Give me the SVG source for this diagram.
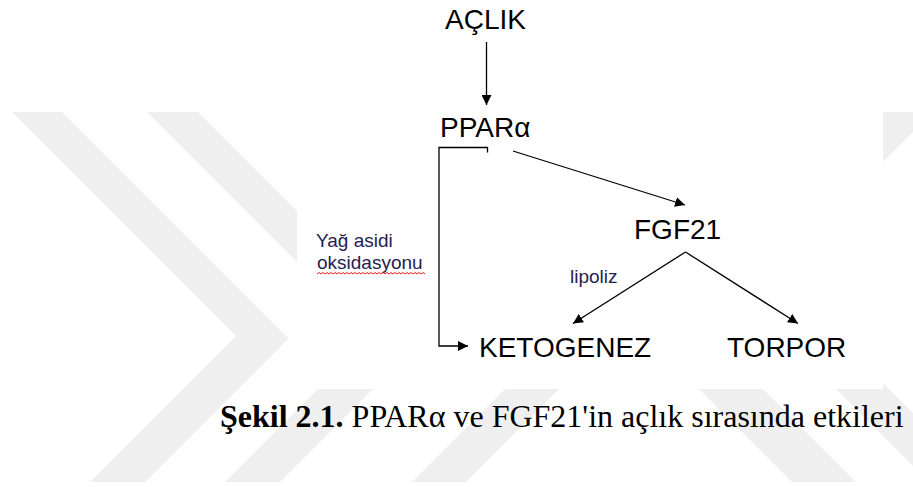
<svg xmlns="http://www.w3.org/2000/svg" width="913" height="487" viewBox="0 0 913 487">
<style>
.wm{fill:#efefef}
.lbl{font-family:"Liberation Sans",Arial,sans-serif;font-size:28px;fill:#000}
.sm{font-family:"Liberation Sans",Arial,sans-serif;font-size:19px;fill:#262050}
.cap{font-family:"Liberation Serif","Times New Roman",serif;font-size:32px;fill:#000}
.edge{stroke:#000;stroke-width:1.3;fill:none}
</style>
<defs>
<marker id="ah" markerUnits="userSpaceOnUse" markerWidth="10" markerHeight="10" viewBox="0 0 10 10" refX="10" refY="5" orient="auto"><path d="M0,0 L10,5 L0,10 z" fill="#000"/></marker>
</defs>
<rect width="913" height="487" fill="#fff"/>
<g id="watermark">
<polygon class="wm" points="12,112 62,112 288.5,338.5 145,482 90,482 236,336"/>
<polygon class="wm" points="147,112 198,112 424,338 280,482 225,482 371,336"/>
<polygon class="wm" points="782,112 836,112 466,482 412,482"/>
<polygon class="wm" points="883,112 933,112 883,162"/>
<polygon class="wm" points="422,112 486,112 856,482 792,482"/>
<polygon class="wm" points="559,112 612,112 982,482 929,482"/>
</g>
<rect x="297" y="0" width="586" height="389" fill="#fff"/>
<g id="connectors">
<line class="edge" x1="486.5" y1="42" x2="486.5" y2="105" marker-end="url(#ah)"/>
<path class="edge" d="M487.5,152.5 V147.5 H439 V346 H468" marker-end="url(#ah)"/>
<line class="edge" x1="513" y1="151" x2="685" y2="205" marker-end="url(#ah)"/>
<line class="edge" x1="685.5" y1="252" x2="573" y2="323.5" marker-end="url(#ah)"/>
<line class="edge" x1="685.5" y1="252" x2="798" y2="323.5" marker-end="url(#ah)"/>
</g>
<g id="node-aclik"><text class="lbl" x="445" y="29">AÇLIK</text></g>
<g id="node-ppara"><text class="lbl" x="440" y="137">PPARα</text></g>
<g id="node-fgf21"><text class="lbl" x="634" y="238.5">FGF21</text></g>
<g id="node-ketogenez"><text class="lbl" x="479" y="357">KETOGENEZ</text></g>
<g id="node-torpor"><text class="lbl" x="727" y="357">TORPOR</text></g>
<g id="label-lipoliz"><text class="sm" x="570" y="283">lipoliz</text></g>
<g id="label-yag">
<text class="sm" x="316" y="247">Yağ asidi</text>
<text class="sm" x="317" y="268.5">oksidasyonu</text>
<path d="M317,274 l2,-1.5 l2,1.5 l2,-1.5 l2,1.5 l2,-1.5 l2,1.5 l2,-1.5 l2,1.5 l2,-1.5 l2,1.5 l2,-1.5 l2,1.5 l2,-1.5 l2,1.5 l2,-1.5 l2,1.5 l2,-1.5 l2,1.5 l2,-1.5 l2,1.5 l2,-1.5 l2,1.5 l2,-1.5 l2,1.5 l2,-1.5 l2,1.5 l2,-1.5 l2,1.5 l2,-1.5 l2,1.5 l2,-1.5 l2,1.5 l2,-1.5 l2,1.5 l2,-1.5 l2,1.5 l2,-1.5 l2,1.5 l2,-1.5 l2,1.5 l2,-1.5 l2,1.5 l2,-1.5 l2,1.5 l2,-1.5 l2,1.5 l2,-1.5 l2,1.5 l2,-1.5 l2,1.5 l2,-1.5 l2,1.5 l2,-1.5 l2,1.5" fill="none" stroke="#e02020" stroke-width="1"/>
</g>
<g id="caption"><text class="cap" x="220" y="427"><tspan font-weight="bold">Şekil 2.1.</tspan> PPARα ve FGF21'in açlık sırasında etkileri</text></g>
</svg>
